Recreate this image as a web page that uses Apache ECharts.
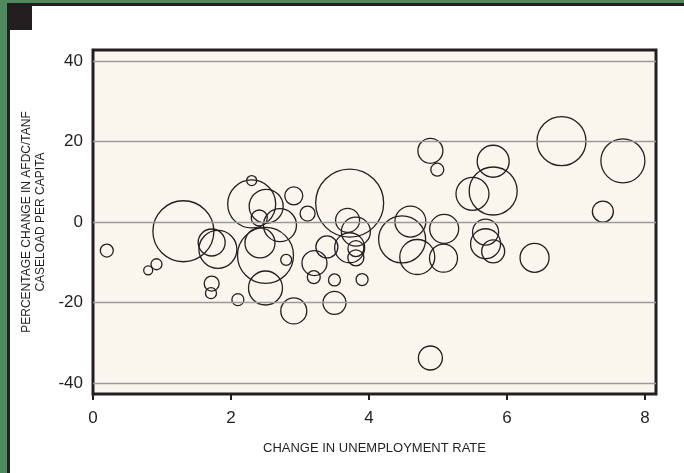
<!DOCTYPE html>
<html><head><meta charset="utf-8">
<script src="https://cdn.jsdelivr.net/npm/echarts@6/dist/echarts.min.js"></script>
<style>html,body{margin:0;padding:0;background:#fff}#c{width:684px;height:473px}</style>
</head><body><div id="c"></div>
<script>
// Change in unemployment rate (x)
const unemploymentChange = [
  0.20, 0.80, 0.92, 1.31, 1.72, 1.81, 1.72, 1.71, 2.10, 2.30,
  2.30, 2.51, 2.41, 2.71, 2.42, 2.50, 2.80, 2.50, 2.91, 3.11,
  3.72, 3.69, 3.81, 3.39, 3.72, 3.81, 3.81, 3.21, 3.20, 3.50,
  3.90, 2.91, 3.50, 4.89, 4.99, 5.80, 5.80, 5.50, 4.60, 4.48,
  4.70, 5.09, 5.08, 5.69, 5.69, 5.80, 6.40, 6.79, 7.68, 7.39,
  4.89
];
// Percentage change in AFDC/TANF caseload per capita (y)
const caseloadChange = [
  -7.1, -12.0, -10.5, -2.3, -5.1, -6.8, -15.3, -17.7, -19.3, 10.3,
  4.5, 3.9, 1.0, -0.8, -5.2, -8.3, -9.4, -16.4, 6.5, 2.1,
  4.7, 0.4, -2.4, -6.2, -6.4, -6.6, -8.9, -10.2, -13.7, -14.4,
  -14.3, -22.1, -20.1, 17.7, 13.0, 15.1, 7.7, 7.0, 0.1, -4.3,
  -8.7, -1.7, -9.0, -2.5, -5.4, -7.3, -8.9, 20.1, 15.2, 2.6,
  -33.8
];
// Relative bubble weight (state size)
const bubbleWeight = [
  13, 9, 11, 61, 27, 38, 15, 11, 12, 10,
  48, 34, 16, 33, 30, 56, 11, 34, 18, 15,
  68, 24, 29, 22, 30, 16, 16, 25, 13, 12,
  12, 26, 23, 25, 13, 32, 48, 33, 31, 47,
  35, 29, 28, 26, 30, 23, 29, 49, 44, 21,
  24
];
const xTicks = [0, 2, 4, 6, 8];
const yTicks = [-40, -20, 0, 20, 40];

const ink = '#231f20';
const chart = echarts.init(document.getElementById('c'), null, {renderer: 'canvas'});
const points = unemploymentChange.map((x, i) => [x, caseloadChange[i], bubbleWeight[i]]);

chart.setOption({
  animation: false,
  backgroundColor: '#ffffff',
  graphic: [
    {type: 'rect', shape: {x: 0, y: 0, width: 7, height: 473}, style: {fill: '#4f8a5f'}, silent: true},
    {type: 'rect', shape: {x: 0, y: 0, width: 684, height: 3}, style: {fill: '#4f8a5f'}, silent: true},
    {type: 'rect', shape: {x: 7, y: 3, width: 3, height: 470}, style: {fill: ink}, silent: true},
    {type: 'rect', shape: {x: 7, y: 3, width: 677, height: 3}, style: {fill: ink}, silent: true},
    {type: 'rect', shape: {x: 7, y: 3, width: 25, height: 27}, style: {fill: ink}, silent: true}
  ],
  grid: {
    left: 93, right: 28, top: 50, bottom: 79,
    show: true, backgroundColor: '#faf6ee', borderColor: ink, borderWidth: 3
  },
  xAxis: {
    type: 'value', min: 0, max: 8.16,
    axisLine: {show: false, onZero: false},
    axisTick: {show: true, customValues: xTicks, length: 6, lineStyle: {color: ink, width: 2}},
    axisLabel: {customValues: xTicks, fontSize: 17, color: ink, margin: 16, fontFamily: 'Liberation Sans'},
    splitLine: {show: false},
    name: 'CHANGE IN UNEMPLOYMENT RATE',
    nameLocation: 'middle', nameGap: 48,
    nameTextStyle: {fontSize: 13, color: ink, fontFamily: 'Liberation Sans'}
  },
  yAxis: {
    type: 'value', min: -42.75, max: 42.75,
    axisLine: {show: false, onZero: false},
    axisTick: {show: false},
    axisLabel: {customValues: yTicks, fontSize: 17, color: ink, margin: 10, fontFamily: 'Liberation Sans'},
    splitLine: {show: false},
    name: 'PERCENTAGE CHANGE IN AFDC/TANF\nCASELOAD PER CAPITA',
    nameLocation: 'middle', nameGap: 41, nameRotate: 90,
    nameTextStyle: {fontSize: 12, color: ink, fontFamily: 'Liberation Sans', lineHeight: 14, align: 'center'}
  },
  series: [{
    type: 'scatter',
    data: points,
    symbol: 'circle',
    symbolSize: d => d[2],
    itemStyle: {color: 'rgba(0,0,0,0)', borderColor: ink, borderWidth: 1.3, opacity: 1},
    emphasis: {disabled: true},
    markLine: {
      silent: true, symbol: ['none', 'none'],
      label: {show: false},
      lineStyle: {color: '#9a9a9a', width: 1.3, type: 'solid'},
      emphasis: {disabled: true},
      data: yTicks.map(v => ({yAxis: v}))
    }
  }]
});
</script></body></html>
